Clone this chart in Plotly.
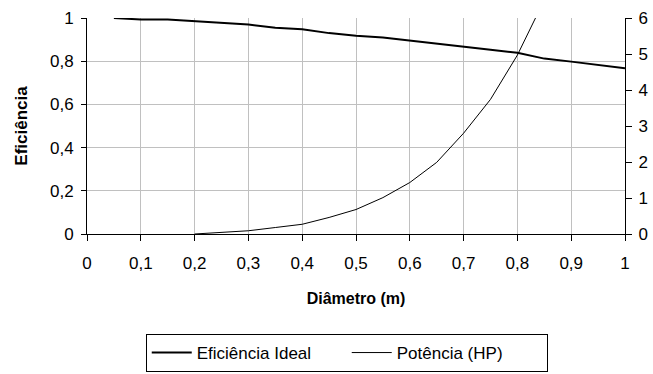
import plotly.graph_objects as go

# Diameter (m) and ideal efficiency
diametro_ef = [0.05, 0.10, 0.15, 0.20, 0.25, 0.30, 0.35, 0.40, 0.45, 0.50,
               0.55, 0.60, 0.65, 0.70, 0.75, 0.80, 0.85, 0.90, 0.95, 1.00]
eficiencia = [1.000, 0.993, 0.993, 0.985, 0.978, 0.970, 0.955, 0.948, 0.930, 0.918,
              0.910, 0.895, 0.881, 0.867, 0.853, 0.839, 0.812, 0.798, 0.783, 0.767]

# Diameter (m) and power (HP)
diametro_pot = [0.20, 0.25, 0.30, 0.35, 0.40, 0.45, 0.50, 0.55, 0.60, 0.65,
                0.70, 0.75, 0.80, 0.85]
potencia = [0.00, 0.045, 0.09, 0.18, 0.27, 0.46, 0.68, 1.01, 1.43, 1.99,
            2.80, 3.74, 4.97, 6.50]

FONT = "Liberation Sans, Arial, sans-serif"

fig = go.Figure()
fig.add_trace(go.Scatter(x=diametro_ef, y=eficiencia, mode="lines",
                         name="Eficiência Ideal",
                         line=dict(color="black", width=2)))
fig.add_trace(go.Scatter(x=diametro_pot, y=potencia, mode="lines",
                         name="Potência (HP)", yaxis="y2",
                         line=dict(color="black", width=1)))

fig.update_layout(
    width=653, height=374,
    margin=dict(l=87, r=28, t=18, b=140, autoexpand=False),
    paper_bgcolor="white", plot_bgcolor="white",
    separators=",.",
    font=dict(family=FONT, size=17, color="black"),
    showlegend=True,
    legend=dict(orientation="h", xref="container", yref="container",
                x=0.531, xanchor="center", y=1 - 334 / 374, yanchor="top",
                bordercolor="black", borderwidth=1, bgcolor="white",
                font=dict(size=17), itemwidth=40, entrywidth=145),
    xaxis=dict(range=[0, 1], dtick=0.1, tick0=0, showgrid=True, gridcolor="#c0c0c0",
               gridwidth=1, showline=True, linecolor="black", linewidth=1,
               ticks="outside", ticklen=6, tickcolor="black", zeroline=False,
               ticklabelstandoff=8,
               title=dict(text="<b>Diâmetro (m)</b>", font=dict(size=16), standoff=20)),
    yaxis=dict(range=[0, 1], dtick=0.2, tick0=0, showgrid=True, gridcolor="#c0c0c0",
               gridwidth=1, showline=True, linecolor="black", linewidth=1,
               ticks="outside", ticklen=5, tickcolor="black", zeroline=False,
               ticklabelstandoff=4,
               title=dict(text="<b>Eficiência</b>", font=dict(size=17), standoff=18)),
    yaxis2=dict(range=[0, 6], dtick=1, tick0=0, overlaying="y", side="right",
                showgrid=False, showline=True, linecolor="black", linewidth=1,
                ticks="outside", ticklen=6, tickcolor="black", zeroline=False,
                ticklabelstandoff=3),
)

fig.write_html("out.html")
